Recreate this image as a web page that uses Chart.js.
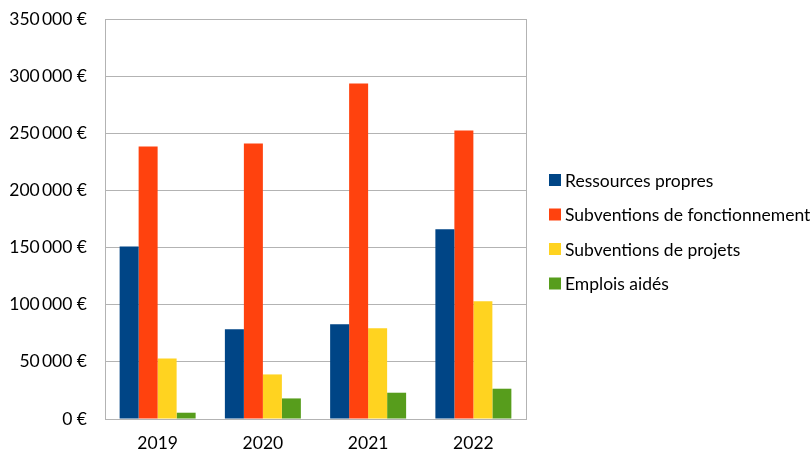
<!DOCTYPE html>
<html>
<head>
<meta charset="utf-8">
<script src="https://cdn.jsdelivr.net/npm/chart.js@4"></script>
<style>
  html, body { margin:0; padding:0; background:#fff; }
  #wrap { width:812px; height:453px; }
</style>
</head>
<body>
<div id="wrap"><canvas id="chart" width="812" height="453"></canvas></div>
<script>
const YEARS = ['2019', '2020', '2021', '2022'];
const RESSOURCES = [151000, 78500, 83000, 166000];
const SUBV_FONCT = [238500, 241000, 293500, 252500];
const SUBV_PROJ  = [53000, 39000, 79500, 103000];
const EMPLOIS    = [5500, 18000, 23000, 26500];
const SERIES_NAMES = ['Ressources propres', 'Subventions de fonctionnement', 'Subventions de projets', 'Emplois aidés'];
const COLORS = ['#004586', '#ff420e', '#ffd320', '#579d1c'];
const Y_MAX = 350000, Y_STEP = 50000;

const FONT = "Lato, 'Open Sans', sans-serif";
const FSIZE = 17.5;
const GRID = '#b3b3b3';

function euro(v) {
  const s = String(v).replace(/\B(?=(\d{3})+(?!\d))/g, '\u2009');
  return s + ' €';
}

// box around the plot area
const framePlugin = {
  id: 'frame',
  afterDraw(chart) {
    const { ctx, chartArea: a } = chart;
    ctx.save();
    ctx.strokeStyle = GRID;
    ctx.lineWidth = 1;
    ctx.strokeRect(Math.round(a.left) + 0.5, Math.round(a.top) + 0.5,
                   Math.round(a.right - a.left), Math.round(a.bottom - a.top));
    ctx.restore();
  }
};

// legend on the right, drawn by hand
const sideLegend = {
  id: 'sideLegend',
  afterDraw(chart) {
    const ctx = chart.ctx;
    ctx.save();
    ctx.font = FSIZE + 'px ' + FONT;
    ctx.textBaseline = 'middle';
    chart.data.datasets.forEach((ds, i) => {
      const y = 180 + i * 34.5;
      ctx.fillStyle = ds.backgroundColor;
      ctx.fillRect(549, y - 6, 12, 12);
      ctx.fillStyle = '#000';
      ctx.fillText(ds.label, 565, y + 1);
    });
    ctx.restore();
  }
};

const datasets = [RESSOURCES, SUBV_FONCT, SUBV_PROJ, EMPLOIS].map((d, i) => ({
  label: SERIES_NAMES[i],
  data: d,
  backgroundColor: COLORS[i],
  borderWidth: 0,
  barPercentage: 1,
  categoryPercentage: 0.722
}));

new Chart(document.getElementById('chart'), {
  type: 'bar',
  data: { labels: YEARS, datasets },
  options: {
    responsive: false,
    animation: false,
    layout: { padding: { top: 19, right: 286, left: 10, bottom: 0 } },
    plugins: { legend: { display: false }, tooltip: { enabled: false } },
    scales: {
      x: {
        grid: { display: false, drawTicks: false },
        border: { color: GRID },
        ticks: { color: '#000', font: { family: FONT, size: FSIZE }, padding: 14 },
        afterFit(s) { s.height = 34; s.paddingLeft = 0; s.paddingRight = 0; }
      },
      y: {
        min: 0, max: Y_MAX,
        grid: { color: GRID, drawTicks: false },
        border: { color: GRID },
        ticks: { stepSize: Y_STEP, color: '#000', font: { family: FONT, size: FSIZE }, padding: 18,
                 callback: v => euro(v) },
        afterFit(s) { s.width = 95; s.paddingTop = 0; s.paddingBottom = 0; }
      }
    }
  },
  plugins: [framePlugin, sideLegend]
});
</script>
</body>
</html>
